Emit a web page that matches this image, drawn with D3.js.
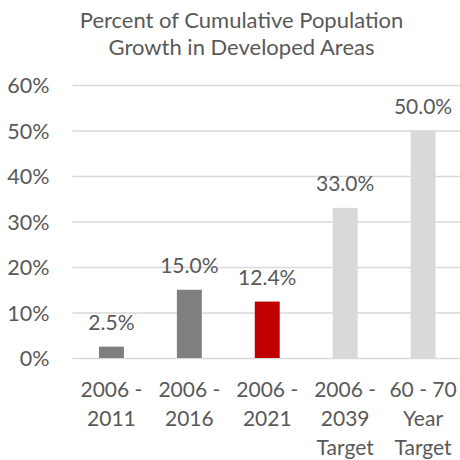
<!DOCTYPE html>
<html>
<head>
<meta charset="utf-8">
<script src="https://cdn.jsdelivr.net/npm/d3@7"></script>
<style>
  body { margin: 0; background: #fff; }
  text { font-family: Lato, "Open Sans", sans-serif; fill: #595959; }
</style>
</head>
<body>
<svg id="chart"></svg>
<script>
// chart data
var categories = [
  ["2006 -", "2011"],
  ["2006 -", "2016"],
  ["2006 -", "2021"],
  ["2006 -", "2039", "Target"],
  ["60 - 70", "Year", "Target"]
];
var values = [2.5, 15.0, 12.4, 33.0, 50.0];
var barColors = ["#7f7f7f", "#7f7f7f", "#c00000", "#d9d9d9", "#d9d9d9"];
var yTicks = [0, 10, 20, 30, 40, 50, 60];
var titleLines = ["Percent of Cumulative Population", "Growth in Developed Areas"];

var width = 460, height = 460;
var margin = {top: 85, right: -2, bottom: 102, left: 72.5};

var svg = d3.select("#chart")
  .attr("width", width)
  .attr("height", height);

var xScale = d3.scaleBand()
  .domain(d3.range(values.length))
  .range([margin.left, width - margin.right])
  .paddingInner(0.68)
  .paddingOuter(0.34);

var yScale = d3.scaleLinear()
  .domain([0, 60])
  .range([height - margin.bottom, margin.top]);

// title
svg.append("g")
  .selectAll("text")
  .data(titleLines)
  .enter().append("text")
  .attr("x", 241.5)
  .attr("y", function(d, i) { return 28 + i * 27; })
  .attr("text-anchor", "middle")
  .style("font-size", "22px")
  .text(function(d) { return d; });

// y axis with gridlines
var yAxis = svg.append("g")
  .attr("transform", `translate(${margin.left}, 0)`)
  .call(d3.axisRight(yScale)
    .tickValues(yTicks)
    .tickSize(width - margin.right - margin.left)
    .tickFormat(function(d) { return d + "%"; }));

yAxis.select(".domain").remove();
yAxis.selectAll(".tick line")
  .attr("stroke", "#d9d9d9")
  .attr("stroke-width", 1.5);
yAxis.selectAll(".tick text")
  .attr("x", -23)
  .attr("dy", "0.35em")
  .attr("text-anchor", "end")
  .style("font-size", "21.5px");

// bars
svg.append("g")
  .selectAll("rect")
  .data(values)
  .enter().append("rect")
  .attr("x", function(d, i) { return xScale(i); })
  .attr("y", function(d) { return yScale(d); })
  .attr("width", xScale.bandwidth())
  .attr("height", function(d) { return yScale(0) - yScale(d); })
  .attr("fill", function(d, i) { return barColors[i]; });

// value labels
svg.append("g")
  .selectAll("text")
  .data(values)
  .enter().append("text")
  .attr("x", function(d, i) { return xScale(i) + xScale.bandwidth() / 2; })
  .attr("y", function(d) { return yScale(d) - 17; })
  .attr("text-anchor", "middle")
  .style("font-size", "21px")
  .text(function(d) { return d.toFixed(1) + "%"; });

// category labels
var cat = svg.append("g")
  .selectAll("text")
  .data(categories)
  .enter().append("text")
  .attr("text-anchor", "middle")
  .style("font-size", "21px");

cat.selectAll("tspan")
  .data(function(d, i) { return d.map(function(s) { return {s: s, i: i}; }); })
  .enter().append("tspan")
  .attr("x", function(d) { return xScale(d.i) + xScale.bandwidth() / 2; })
  .attr("y", function(d, j) { return 397 + j * 29; })
  .text(function(d) { return d.s; });
</script>
</body>
</html>
